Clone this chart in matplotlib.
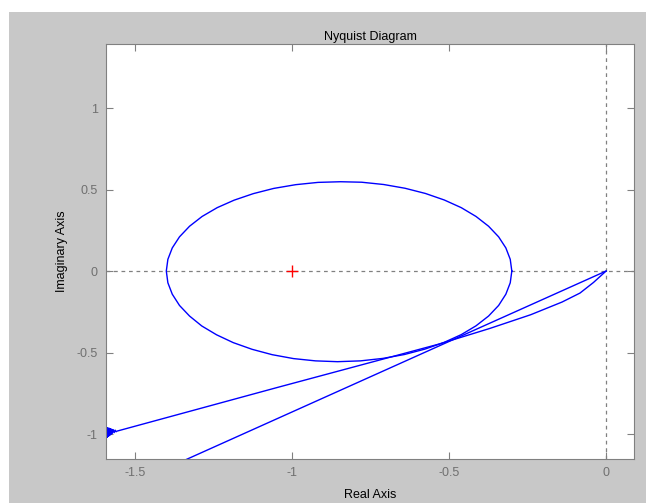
import matplotlib.pyplot as plt
from matplotlib.patches import Rectangle

# loop around -1
loop_re = [-0.300, -0.305, -0.319, -0.342, -0.374, -0.414, -0.461, -0.515, -0.575,
           -0.640, -0.708, -0.778, -0.845, -0.917, -0.988, -1.058, -1.123, -1.184,
           -1.238, -1.286, -1.326, -1.358, -1.381, -1.395, -1.400,
           -1.395, -1.381, -1.358, -1.326, -1.287, -1.240, -1.187, -1.127, -1.063,
           -0.995, -0.925, -0.855, -0.782, -0.711, -0.642, -0.577, -0.516, -0.461,
           -0.414, -0.374, -0.342, -0.319, -0.305, -0.300]
loop_im = [0.000, 0.072, 0.142, 0.210, 0.275, 0.335, 0.389, 0.436, 0.476,
           0.508, 0.531, 0.545, 0.548, 0.544, 0.530, 0.507, 0.475, 0.435,
           0.389, 0.335, 0.275, 0.210, 0.142, 0.072, 0.000,
           -0.072, -0.142, -0.211, -0.276, -0.337, -0.391, -0.439, -0.480, -0.513,
           -0.537, -0.551, -0.556, -0.551, -0.536, -0.512, -0.479, -0.438, -0.390,
           -0.336, -0.276, -0.211, -0.142, -0.072, 0.000]

# branch from the low frequency end (ringing blob) into the origin
branch_re = [-1.600, -1.599, -1.597, -1.596, -1.594, -1.593, -1.591, -1.590,
             -1.588, -1.586, -1.584, -1.582, -1.580, -1.578, -1.576, -1.574,
             -1.572, -1.569, -1.566, -1.563, -1.560, -1.557,
             -1.05, -0.53, -0.37, -0.24, -0.14, -0.083, -0.04, 0.0]
branch_im = [-1.040, -0.955, -1.035, -0.957, -1.030, -0.958, -1.025, -0.960,
             -1.020, -0.962, -1.014, -0.964, -1.008, -0.967, -1.002, -0.970,
             -0.996, -0.973, -0.991, -0.976, -0.986, -0.982,
             -0.716, -0.447, -0.352, -0.268, -0.19, -0.135, -0.07, 0.0]

# straight branch out of the origin
line_re = [0.0, -0.53, -1.40]
line_im = [0.0, -0.458, -1.211]

fig = plt.figure(figsize=(6.46, 5.03), dpi=100, facecolor='white')
fig.patches.append(Rectangle((9/646, 0), 1, 1 - 12/503, transform=fig.transFigure,
                             facecolor='#c8c8c8', edgecolor='none', zorder=-10))

ax = fig.add_axes([106/646, 1 - 459/503, 528/646, 415/503])
ax.set_facecolor('white')

ax.axhline(0, color='#808080', ls=(0, (3, 3)), lw=0.9)
ax.axvline(0, color='#808080', ls=(0, (3, 3)), lw=0.9)

ax.plot(loop_re, loop_im, color='blue', lw=1.0)
ax.plot(branch_re, branch_im, color='blue', lw=1.0)
ax.plot(line_re, line_im, color='blue', lw=1.0)
ax.plot([-1], [0], '+', color='red', ms=9, mew=1.0)

ax.set_xlim(-1.592, 0.089)
ax.set_ylim(-1.153, 1.393)
ax.set_xticks([-1.5, -1, -0.5, 0])
ax.set_xticklabels(['-1.5', '-1', '-0.5', '0'])
ax.set_yticks([-1, -0.5, 0, 0.5, 1])
ax.set_yticklabels(['-1', '-0.5', '0', '0.5', '1'])

font = 'Liberation Sans'
ax.tick_params(direction='in', length=5, color='#808080', labelcolor='#707070',
               labelsize=9, top=True, right=True, pad=6)
for lab in ax.get_xticklabels() + ax.get_yticklabels():
    lab.set_family(font)
for s in ax.spines.values():
    s.set_color('#808080')

ax.set_title('Nyquist Diagram', fontsize=9, family=font, pad=3)
ax.set_xlabel('Real Axis', fontsize=9, family=font, labelpad=7)
ax.set_ylabel('Imaginary Axis', fontsize=9, family=font, labelpad=6)

plt.savefig('out.png', dpi=100, facecolor=fig.get_facecolor())
